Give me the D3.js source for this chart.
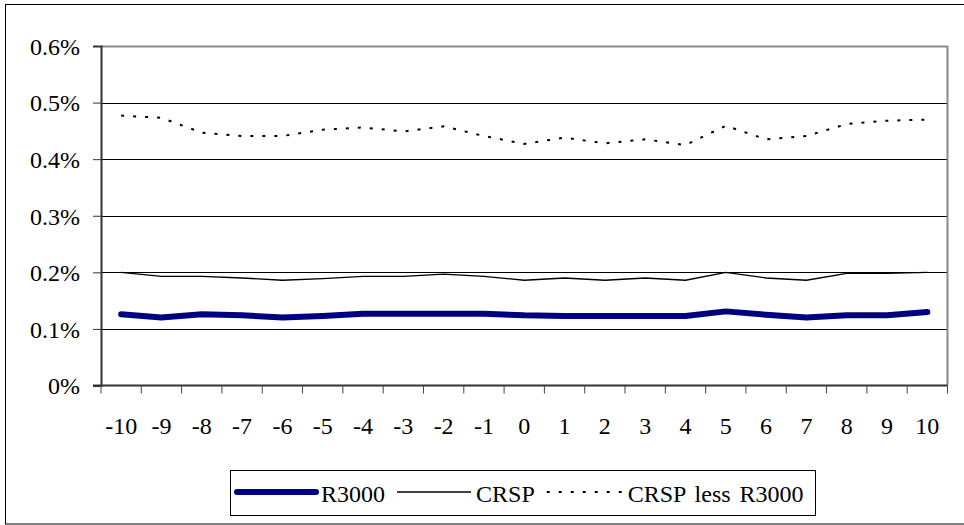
<!DOCTYPE html>
<html>
<head>
<meta charset="utf-8">
<script src="https://cdn.jsdelivr.net/npm/d3@7"></script>
<style>
  body { margin: 0; background: #fff; }
</style>
</head>
<body>
<div id="chart"></div>
<script>
// event-window days
const days = [-10, -9, -8, -7, -6, -5, -4, -3, -2, -1, 0, 1, 2, 3, 4, 5, 6, 7, 8, 9, 10];

// values in percent
const r3000 = [0.126, 0.120, 0.126, 0.124, 0.120, 0.123, 0.127, 0.127, 0.127, 0.127, 0.124,
  0.123, 0.123, 0.123, 0.123, 0.131, 0.125, 0.120, 0.124, 0.124, 0.130];
const crsp = [0.200, 0.193, 0.193, 0.190, 0.186, 0.189, 0.193, 0.193, 0.197, 0.193, 0.186,
  0.190, 0.186, 0.190, 0.186, 0.200, 0.190, 0.186, 0.198, 0.198, 0.200];
const crspLess = [0.477, 0.473, 0.447, 0.441, 0.441, 0.452, 0.456, 0.449, 0.458, 0.441, 0.427,
  0.438, 0.428, 0.435, 0.425, 0.459, 0.435, 0.441, 0.462, 0.468, 0.470];

const yTicks = [0, 0.1, 0.2, 0.3, 0.4, 0.5, 0.6];
const seriesNames = ["R3000", "CRSP", "CRSP less R3000"];

const fontFamily = "'Liberation Serif', 'Times New Roman', serif";
const fontSize = 24;

const width = 964, height = 525;
const margin = {top: 46, right: 16.5, bottom: 139.5, left: 101};

const svg = d3.select("#chart").append("svg")
  .attr("width", width)
  .attr("height", height)
  .attr("font-family", fontFamily)
  .attr("font-size", fontSize);

// outer frame
svg.append("rect")
  .attr("x", 5.5).attr("y", 4.5)
  .attr("width", 962).attr("height", 519.5)
  .attr("fill", "none").attr("stroke", "#000").attr("stroke-width", 1);

const x = d3.scaleBand()
  .domain(days)
  .range([margin.left, width - margin.right]);

const y = d3.scaleLinear()
  .domain([0, 0.6])
  .range([height - margin.bottom, margin.top]);

const plotRight = width - margin.right;
const plotBottom = height - margin.bottom;

// gridlines
svg.append("g")
  .selectAll("line")
  .data(yTicks.filter(d => d > 0))
  .enter()
  .append("line")
    .attr("x1", margin.left).attr("x2", plotRight)
    .attr("y1", d => Math.round(y(d)) + 0.5).attr("y2", d => Math.round(y(d)) + 0.5)
    .attr("stroke", d => d === 0.6 ? "#888" : "#000")
    .attr("stroke-width", d => d === 0.6 ? 2 : 1);

// right edge of plot area
svg.append("line")
  .attr("x1", plotRight).attr("x2", plotRight)
  .attr("y1", margin.top).attr("y2", plotBottom)
  .attr("stroke", "#888").attr("stroke-width", 2);

// y axis
const yAxis = svg.append("g")
  .attr("transform", "translate(" + margin.left + ",0)")
  .call(d3.axisLeft(y)
    .tickValues(yTicks)
    .tickSize(8)
    .tickPadding(13)
    .tickFormat(d => d === 0 ? "0%" : d3.format(".1f")(d) + "%"));
yAxis.attr("font-family", fontFamily).attr("font-size", fontSize);
yAxis.select(".domain").attr("stroke", "#333").attr("stroke-width", 2);
yAxis.selectAll(".tick line").attr("stroke", "#333");
yAxis.selectAll("text")
  .attr("fill", "#000")
  .attr("dy", "0.35em");

// x axis: ticks between categories
const xAxisG = svg.append("g")
  .attr("transform", "translate(0," + plotBottom + ")");
xAxisG.append("line")
  .attr("x1", margin.left - 8).attr("x2", plotRight)
  .attr("y1", 0).attr("y2", 0)
  .attr("stroke", "#333").attr("stroke-width", 2);
const bounds = days.map(d => x(d)).concat([x(days[days.length - 1]) + x.bandwidth()]);
xAxisG.selectAll(".tk")
  .data(bounds)
  .enter()
  .append("line")
    .attr("class", "tk")
    .attr("x1", d => d).attr("x2", d => d)
    .attr("y1", 0).attr("y2", 8)
    .attr("stroke", "#444");
xAxisG.selectAll("text")
  .data(days)
  .enter()
  .append("text")
    .attr("x", d => x(d) + x.bandwidth() / 2)
    .attr("y", 48.5)
    .attr("text-anchor", "middle")
    .text(d => d);

const line = d3.line()
  .x((d, i) => x(days[i]) + x.bandwidth() / 2)
  .y(d => y(d));

svg.append("path")
  .datum(crspLess)
  .attr("d", line)
  .attr("fill", "none")
  .attr("stroke", "#000")
  .attr("stroke-width", 2)
  .attr("stroke-dasharray", "3,9");

svg.append("path")
  .datum(crsp)
  .attr("d", line)
  .attr("fill", "none")
  .attr("stroke", "#000")
  .attr("stroke-width", 1.3);

svg.append("path")
  .datum(r3000)
  .attr("d", line)
  .attr("fill", "none")
  .attr("stroke", "#000080")
  .attr("stroke-width", 6)
  .attr("stroke-linecap", "round")
  .attr("stroke-linejoin", "round");

// legend
const legend = svg.append("g");
legend.append("rect")
  .attr("x", 230.5).attr("y", 470.5)
  .attr("width", 585).attr("height", 45)
  .attr("fill", "#fff").attr("stroke", "#000");

const legendStyles = [
  {stroke: "#000080", width: 6, dash: null, cap: "round", len: 79},
  {stroke: "#000", width: 1.3, dash: null, cap: "butt", len: 74},
  {stroke: "#000", width: 2, dash: "3,9", cap: "butt", len: 76}
];
let lx = 237;
seriesNames.forEach(function(name, i) {
  const s = legendStyles[i];
  legend.append("line")
    .attr("x1", lx).attr("x2", lx + s.len)
    .attr("y1", 492).attr("y2", 492)
    .attr("stroke", s.stroke)
    .attr("stroke-width", s.width)
    .attr("stroke-linecap", s.cap)
    .attr("stroke-dasharray", s.dash);
  const t = legend.append("text")
    .attr("x", lx + s.len + 5)
    .attr("y", 502)
    .attr("word-spacing", i === 2 ? 3 : 0)
    .text(name);
  lx = lx + s.len + 5 + t.node().getComputedTextLength() + 12;
});
</script>
</body>
</html>
